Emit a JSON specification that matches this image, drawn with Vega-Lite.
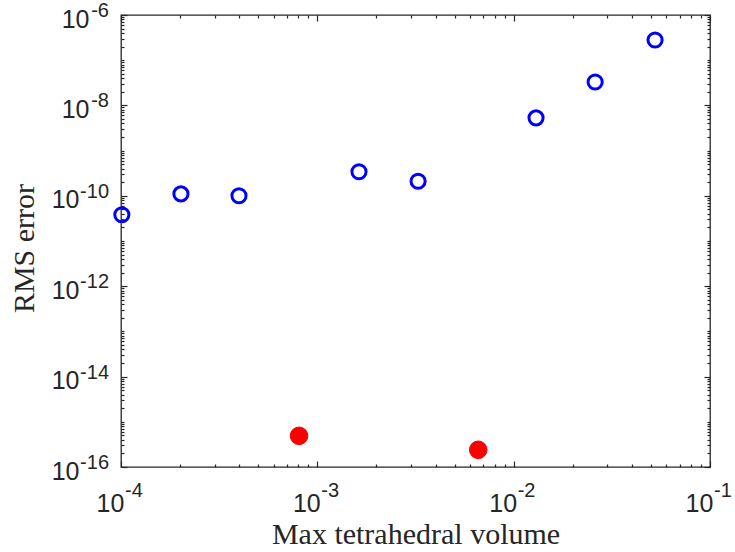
{
  "$schema": "https://vega.github.io/schema/vega-lite/v6.json",
  "width": 589,
  "height": 452,
  "autosize": "none",
  "padding": {"left": 121, "top": 15, "right": 25, "bottom": 85},
  "background": "white",
  "config": {
    "view": {"stroke": "#262626", "strokeWidth": 1.3},
    "axis": {
      "grid": false,
      "domain": false,
      "tickColor": "#262626",
      "tickWidth": 1.2,
      "labelColor": "#262626",
      "labelFont": "Liberation Sans",
      "labelFontSize": 25,
      "labelOverlap": false,
      "labelFlush": false,
      "titleColor": "#262626",
      "titleFont": "Liberation Serif",
      "titleFontSize": 30,
      "titleFontWeight": "normal"
    }
  },
  "datasets": {
    "pts": [
      {"vol": 0.000101, "rms": 3.8e-11, "series": "a"},
      {"vol": 0.000202, "rms": 1.1e-10, "series": "a"},
      {"vol": 0.000399, "rms": 1.0e-10, "series": "a"},
      {"vol": 0.00163, "rms": 3.4e-10, "series": "a"},
      {"vol": 0.00326, "rms": 2.1e-10, "series": "a"},
      {"vol": 0.0130, "rms": 5.3e-9, "series": "a"},
      {"vol": 0.0260, "rms": 3.3e-8, "series": "a"},
      {"vol": 0.0525, "rms": 2.8e-7, "series": "a"},
      {"vol": 0.000807, "rms": 4.9e-16, "series": "b"},
      {"vol": 0.0066, "rms": 2.4e-16, "series": "b"}
    ],
    "xexp": [
      {"vol": 0.0001, "exp": "-4"},
      {"vol": 0.001, "exp": "-3"},
      {"vol": 0.01, "exp": "-2"},
      {"vol": 0.1, "exp": "-1"}
    ],
    "yexp": [
      {"rms": 1e-6, "exp": "-6"},
      {"rms": 1e-8, "exp": "-8"},
      {"rms": 1e-10, "exp": "-10"},
      {"rms": 1e-12, "exp": "-12"},
      {"rms": 1e-14, "exp": "-14"},
      {"rms": 1e-16, "exp": "-16"}
    ]
  },
  "resolve": {"axis": {"x": "independent", "y": "independent"}},
  "layer": [
    {
      "data": {"name": "pts"},
      "transform": [{"filter": "datum.series === 'a'"}],
      "mark": {"type": "point", "shape": "circle", "filled": false, "stroke": "#0000FF", "strokeWidth": 3, "size": 200, "opacity": 1},
      "encoding": {
        "x": {
          "field": "vol", "type": "quantitative",
          "scale": {"type": "log", "domain": [0.0001, 0.1], "nice": false},
          "axis": {
            "orient": "bottom",
            "title": "Max tetrahedral volume",
            "titleBaseline": "alphabetic",
            "titleY": 76,
            "values": [0.0001,0.0002,0.0003,0.0004,0.0005,0.0006,0.0007,0.0008,0.0009,0.001,0.002,0.003,0.004,0.005,0.006,0.007,0.008,0.009,0.01,0.02,0.03,0.04,0.05,0.06,0.07,0.08,0.09,0.1],
            "labelExpr": "abs(log(datum.value)/LN10 - round(log(datum.value)/LN10)) < 1e-6 ? '10' : ''",
            "tickSize": {"condition": {"test": "abs(log(datum.value)/LN10 - round(log(datum.value)/LN10)) < 1e-6", "value": -6}, "value": -3},
            "labelPadding": 30,
            "labelOffset": -11
          }
        },
        "y": {
          "field": "rms", "type": "quantitative",
          "scale": {"type": "log", "domain": [1e-16, 1e-6], "nice": false},
          "axis": {
            "orient": "left",
            "title": "RMS error",
            "titleBaseline": "alphabetic",
            "titleX": -88,
            "titleY": 233,
            "values": [1e-16,2e-16,3e-16,4e-16,5e-16,6e-16,7e-16,8e-16,9e-16,1e-15,2e-15,3e-15,4e-15,5e-15,6e-15,7e-15,8e-15,9e-15,1e-14,2e-14,3e-14,4e-14,5e-14,6e-14,7e-14,8e-14,9e-14,1e-13,2e-13,3e-13,4e-13,5e-13,6e-13,7e-13,8e-13,9e-13,1e-12,2e-12,3e-12,4e-12,5e-12,6e-12,7e-12,8e-12,9e-12,1e-11,2e-11,3e-11,4e-11,5e-11,6e-11,7e-11,8e-11,9e-11,1e-10,2e-10,3e-10,4e-10,5e-10,6e-10,7e-10,8e-10,9e-10,1e-9,2e-9,3e-9,4e-9,5e-9,6e-9,7e-9,8e-9,9e-9,1e-8,2e-8,3e-8,4e-8,5e-8,6e-8,7e-8,8e-8,9e-8,1e-7,2e-7,3e-7,4e-7,5e-7,6e-7,7e-7,8e-7,9e-7,1e-6],
            "labelExpr": "(abs(log(datum.value)/LN10 - round(log(datum.value)/LN10)) < 1e-6 && round(log(datum.value)/LN10) % 2 == 0) ? '10' : ''",
            "tickSize": {"condition": {"test": "abs(log(datum.value)/LN10 - round(log(datum.value)/LN10)) < 1e-6 && round(log(datum.value)/LN10) % 2 == 0", "value": -6}, "value": -3},
            "labelPadding": {"condition": {"test": "datum.value < 5e-10", "value": 48}, "value": 38},
            "labelOffset": 4
          }
        }
      }
    },
    {
      "data": {"name": "pts"},
      "transform": [{"filter": "datum.series === 'b'"}],
      "mark": {"type": "point", "shape": "circle", "filled": true, "fill": "#FF0000", "stroke": "#FF0000", "strokeWidth": 1, "size": 310, "opacity": 1},
      "encoding": {
        "x": {
          "field": "vol", "type": "quantitative",
          "scale": {"type": "log", "domain": [0.0001, 0.1], "nice": false},
          "axis": {
            "orient": "top",
            "title": null,
            "labels": false,
            "values": [0.0001,0.0002,0.0003,0.0004,0.0005,0.0006,0.0007,0.0008,0.0009,0.001,0.002,0.003,0.004,0.005,0.006,0.007,0.008,0.009,0.01,0.02,0.03,0.04,0.05,0.06,0.07,0.08,0.09,0.1],
            "tickSize": {"condition": {"test": "abs(log(datum.value)/LN10 - round(log(datum.value)/LN10)) < 1e-6", "value": -6}, "value": -3}
          }
        },
        "y": {
          "field": "rms", "type": "quantitative",
          "scale": {"type": "log", "domain": [1e-16, 1e-6], "nice": false},
          "axis": {
            "orient": "right",
            "title": null,
            "labels": false,
            "values": [1e-16,2e-16,3e-16,4e-16,5e-16,6e-16,7e-16,8e-16,9e-16,1e-15,2e-15,3e-15,4e-15,5e-15,6e-15,7e-15,8e-15,9e-15,1e-14,2e-14,3e-14,4e-14,5e-14,6e-14,7e-14,8e-14,9e-14,1e-13,2e-13,3e-13,4e-13,5e-13,6e-13,7e-13,8e-13,9e-13,1e-12,2e-12,3e-12,4e-12,5e-12,6e-12,7e-12,8e-12,9e-12,1e-11,2e-11,3e-11,4e-11,5e-11,6e-11,7e-11,8e-11,9e-11,1e-10,2e-10,3e-10,4e-10,5e-10,6e-10,7e-10,8e-10,9e-10,1e-9,2e-9,3e-9,4e-9,5e-9,6e-9,7e-9,8e-9,9e-9,1e-8,2e-8,3e-8,4e-8,5e-8,6e-8,7e-8,8e-8,9e-8,1e-7,2e-7,3e-7,4e-7,5e-7,6e-7,7e-7,8e-7,9e-7,1e-6],
            "tickSize": {"condition": {"test": "abs(log(datum.value)/LN10 - round(log(datum.value)/LN10)) < 1e-6 && round(log(datum.value)/LN10) % 2 == 0", "value": -6}, "value": -3}
          }
        }
      }
    },
    {
      "data": {"name": "xexp"},
      "mark": {"type": "text", "font": "Liberation Sans", "fontSize": 20, "color": "#262626", "align": "left", "baseline": "top", "dx": 4, "dy": 14},
      "encoding": {
        "x": {"field": "vol", "type": "quantitative", "scale": {"type": "log", "domain": [0.0001, 0.1], "nice": false}, "axis": null},
        "y": {"datum": 1e-16, "type": "quantitative", "scale": {"type": "log", "domain": [1e-16, 1e-6], "nice": false}, "axis": null},
        "text": {"field": "exp"}
      }
    },
    {
      "data": {"name": "yexp"},
      "mark": {"type": "text", "font": "Liberation Sans", "fontSize": 20, "color": "#262626", "align": "right", "baseline": "middle", "dx": -12, "dy": -4},
      "encoding": {
        "x": {"datum": 0.0001, "type": "quantitative", "scale": {"type": "log", "domain": [0.0001, 0.1], "nice": false}, "axis": null},
        "y": {"field": "rms", "type": "quantitative", "scale": {"type": "log", "domain": [1e-16, 1e-6], "nice": false}, "axis": null},
        "text": {"field": "exp"}
      }
    }
  ]
}
